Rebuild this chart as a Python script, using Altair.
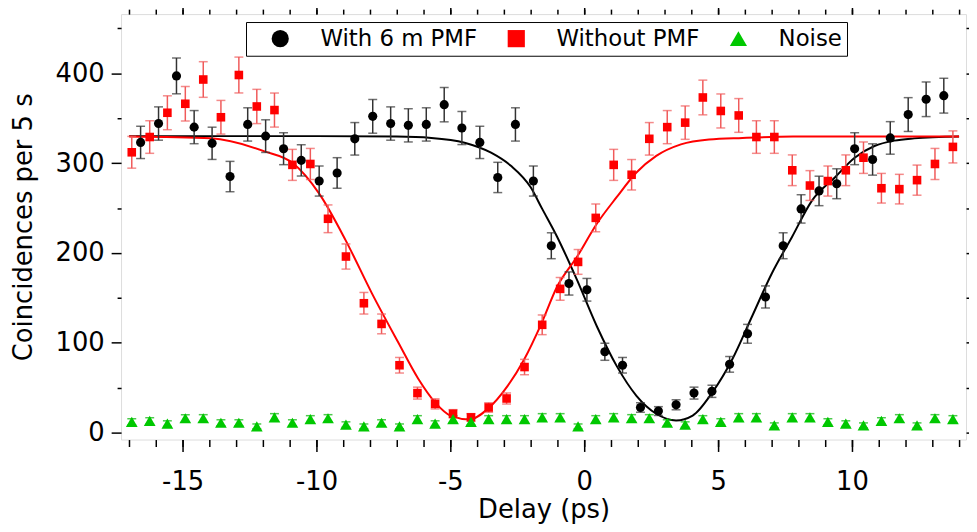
import altair as alt
import pandas as pd

# ---------------- data ----------------
series_names = ["With 6 m PMF", "Without PMF", "Noise"]

x_with = [-16.57, -15.9, -15.23, -14.57, -13.9, -13.23, -12.57, -11.9, -11.23, -10.57,
          -9.9, -9.23, -8.57, -7.9, -7.23, -6.57, -5.9, -5.23, -4.57, -3.9,
          -3.23, -2.57, -1.9, -1.23, -0.57, 0.1, 0.77, 1.43, 2.1, 2.77,
          3.43, 4.1, 4.77, 5.43, 6.1, 6.77, 7.43, 8.1, 8.77, 9.43,
          10.1, 10.77, 11.43, 12.1, 12.77, 13.43]
y_with = [323, 344, 397, 340, 322, 285, 343, 330, 316, 303,
          280, 289, 327, 352, 344, 342, 343, 365, 339, 323,
          284, 343, 280, 208, 166, 159, 90, 75, 28, 24,
          31, 44, 46, 76, 110, 151, 208, 249, 269, 277,
          316, 304, 328, 354, 371, 375]

x_without = [-16.9, -16.23, -15.57, -14.9, -14.23, -13.57, -12.9, -12.23, -11.57, -10.9,
             -10.23, -9.57, -8.9, -8.23, -7.57, -6.9, -6.23, -5.57, -4.9, -4.23,
             -3.57, -2.9, -2.23, -1.57, -0.9, -0.23, 0.43, 1.1, 1.77, 2.43,
             3.1, 3.77, 4.43, 5.1, 5.77, 6.43, 7.1, 7.77, 8.43, 9.1,
             9.77, 10.43, 11.1, 11.77, 12.43, 13.1, 13.77]
y_without = [312, 329, 356, 366, 393, 351, 398, 363, 359, 298,
             299, 238, 196, 144, 121, 75, 44, 32, 21, 17,
             28, 38, 73, 120, 160, 190, 239, 298, 287, 327,
             340, 345, 373, 358, 353, 329, 329, 292, 275, 280,
             292, 306, 272, 271, 281, 299, 318]

x_noise = [-16.9, -16.23, -15.57, -14.9, -14.23, -13.57, -12.9, -12.23, -11.57, -10.9,
           -10.23, -9.57, -8.9, -8.23, -7.57, -6.9, -6.23, -5.57, -4.9, -4.23,
           -3.57, -2.9, -2.23, -1.57, -0.9, -0.23, 0.43, 1.1, 1.77, 2.43,
           3.1, 3.77, 4.43, 5.1, 5.77, 6.43, 7.1, 7.77, 8.43, 9.1,
           9.77, 10.43, 11.1, 11.77, 12.43, 13.1, 13.77]
y_noise = [12, 13, 10, 16, 16, 11, 11, 7, 17, 11,
           15, 16, 9, 7, 11, 7, 15, 10, 15, 12,
           15, 15, 15, 17, 17, 7, 15, 17, 16, 16,
           11, 9, 15, 12, 17, 17, 8, 17, 17, 12,
           10, 8, 13, 16, 8, 16, 15]

# fitted curves
fit_with_x = [-17.0, -10.0, -7.0, -5.71, -4.47, -3.48, -2.74, -2.0, -1.57, -1.01,
              -0.27, 0.47, 1.21, 1.95, 2.69, 3.43, 4.05, 4.79, 5.53, 6.27,
              7.01, 7.76, 8.5, 9.36, 10.1, 10.84, 11.58, 12.32, 14.0]
fit_with_y = [330, 330, 329.5, 328, 322.7, 311.6, 297, 273, 249, 217.8,
              170, 118.4, 74.3, 41, 21, 13.6, 19, 45, 81.7, 129.5,
              177.4, 217.8, 258, 284, 306, 319, 325, 327.5, 329.7]

fit_without_x = [-17.0, -13.94, -11.94, -10.89, -9.9, -8.91, -7.93, -6.94, -6.2, -5.58,
                 -4.96, -4.28, -3.6, -2.86, -2.24, -1.62, -1.01, -0.27, 0.47, 1.21,
                 1.95, 2.69, 3.61, 4.66, 5.91, 7.8, 14.0]
fit_without_y = [329.5, 327.5, 313, 300, 266, 214, 155, 100, 60, 34,
                 18.4, 14.7, 26.5, 52, 81.7, 120, 162.6, 195.7, 232.5, 262,
                 289.5, 308, 320.8, 326.3, 328, 329.5, 329.5]

x_major = [-15, -10, -5, 0, 5, 10]
x_minor = list(range(-17, 15))
y_major = [0, 100, 200, 300, 400]
y_minor = [50, 150, 250, 350, 450]
y_right = [0, 50, 100, 150, 200, 250, 300, 350, 400, 450]

# ---------------- styles ----------------
point_colors = ["#000000", "#ff0000", "#00c800"]
shapes = ["circle", "square", "triangle-up"]
marker_sizes = [85, 75, 140]
# error-bar colours, keyed in a different order so that their (legend-less)
# scale stays separate from the colour/shape legend
bar_domain = ["Without PMF", "With 6 m PMF", "Noise"]
bar_colors = ["#f05a5a", "#333333", "#00b400"]
FONT = "DejaVu Sans"

pts = pd.concat([
    pd.DataFrame({"x": x_without, "y": y_without, "series": series_names[1]}),
    pd.DataFrame({"x": x_with, "y": y_with, "series": series_names[0]}),
    pd.DataFrame({"x": x_noise, "y": y_noise, "series": series_names[2]}),
], ignore_index=True)
fit_w = pd.DataFrame({"x": fit_with_x, "y": fit_with_y})
fit_wo = pd.DataFrame({"x": fit_without_x, "y": fit_without_y})

xscale = alt.Scale(domain=[-17.3, 14.26], nice=False, zero=False)
yscale = alt.Scale(domain=[-7.7, 465.8], nice=False, zero=False)

common = dict(grid=False, domain=False, tickColor="black", tickWidth=1.5,
              labelFont=FONT, labelFontSize=26, labelColor="black",
              titleFont=FONT, titleFontSize=26, titleColor="black",
              titleFontWeight="normal", labelFlush=False)

ax_bottom = alt.Axis(orient="bottom", values=x_major, tickSize=12, labelPadding=17,
                     labelExpr="datum.value + ''", title="Delay (ps)",
                     titleX=426, titleY=79, titleBaseline="alphabetic", titleAlign="center",
                     **common)
ax_bottom_minor = alt.Axis(orient="bottom", values=x_minor, tickSize=7, labels=False,
                           title=None, **common)
ax_top = alt.Axis(orient="top", values=x_major, tickSize=10, labels=False, title=None, **common)
ax_top_minor = alt.Axis(orient="top", values=x_minor, tickSize=5, labels=False, title=None, **common)

ax_left = alt.Axis(orient="left", values=y_major, tickSize=10, labelPadding=7,
                   title="Coincidences per 5 s", titleX=-90, titleY=214.5, titleAngle=270,
                   titleBaseline="alphabetic", titleAlign="center", **common)
ax_left_minor = alt.Axis(orient="left", values=y_minor, tickSize=4, labels=False,
                         title=None, **common)
ax_right = alt.Axis(orient="right", values=y_right, tickSize=3, labels=False,
                    title=None, **common)

line_w = alt.Chart(fit_w).mark_line(color="black", strokeWidth=2, interpolate="monotone").encode(
    x=alt.X("x:Q", scale=xscale, axis=ax_bottom),
    y=alt.Y("y:Q", scale=yscale, axis=ax_left),
)
line_wo = alt.Chart(fit_wo).mark_line(color="#ff0000", strokeWidth=2, interpolate="monotone").encode(
    x=alt.X("x:Q", scale=xscale, axis=ax_bottom_minor),
    y=alt.Y("y:Q", scale=yscale, axis=ax_left_minor),
)

err = alt.Chart(pts).transform_calculate(
    lo="datum.y - sqrt(datum.y)", hi="datum.y + sqrt(datum.y)", bar="datum.series"
)
bar_scale = alt.Scale(domain=bar_domain, range=bar_colors)

rules = err.mark_rule(strokeWidth=1.5).encode(
    x=alt.X("x:Q", scale=xscale, axis=ax_top),
    y=alt.Y("lo:Q", scale=yscale, axis=ax_right),
    y2="hi:Q",
    stroke=alt.Stroke("bar:N", scale=bar_scale, legend=None),
)
caps_lo = err.mark_tick(orient="horizontal", size=9, thickness=1.5).encode(
    x=alt.X("x:Q", scale=xscale, axis=ax_top_minor),
    y=alt.Y("lo:Q", scale=yscale, axis=None),
    fill=alt.Fill("bar:N", scale=bar_scale, legend=None),
)
caps_hi = err.mark_tick(orient="horizontal", size=9, thickness=1.5).encode(
    x=alt.X("x:Q", scale=xscale, axis=None),
    y=alt.Y("hi:Q", scale=yscale, axis=None),
    fill=alt.Fill("bar:N", scale=bar_scale, legend=None),
)

leg = dict(title=" ", titleOrient="left", titlePadding=18, titleFontSize=23, titleFont=FONT,
           orient="none", legendX=126, legendY=8, direction="horizontal",
           labelFont=FONT, labelFontSize=23, labelColor="black",
           symbolSize=300, symbolStrokeWidth=0, labelOffset=29, columnPadding=27,
           padding=5, strokeColor="black", fillColor="white", labelLimit=0)

color_enc = alt.Color("series:N", scale=alt.Scale(domain=series_names, range=point_colors),
                      legend=alt.Legend(**leg))
shape_enc = alt.Shape("series:N", scale=alt.Scale(domain=series_names, range=shapes),
                      legend=alt.Legend(**leg))


def point_layer(name, size):
    return alt.Chart(pts).transform_filter(
        alt.datum.series == name
    ).mark_point(filled=True, opacity=1, size=size).encode(
        x=alt.X("x:Q", scale=xscale, axis=None),
        y=alt.Y("y:Q", scale=yscale, axis=None),
        color=color_enc,
        shape=shape_enc,
    )


p_without = point_layer(series_names[1], marker_sizes[1])
p_with = point_layer(series_names[0], marker_sizes[0])
p_noise = point_layer(series_names[2], marker_sizes[2])

chart = alt.layer(line_w, line_wo, rules, caps_lo, caps_hi, p_without, p_with, p_noise).resolve_axis(
    x="independent", y="independent"
).properties(
    width=852, height=429,
    autosize=alt.AutoSizeParams(type="none"),
    padding={"left": 114, "top": 4, "right": 3, "bottom": 83},
).configure_view(
    stroke="black", strokeWidth=2
).configure(font=FONT)

chart.save("out.html", embed_options={"renderer": "svg", "actions": False})
